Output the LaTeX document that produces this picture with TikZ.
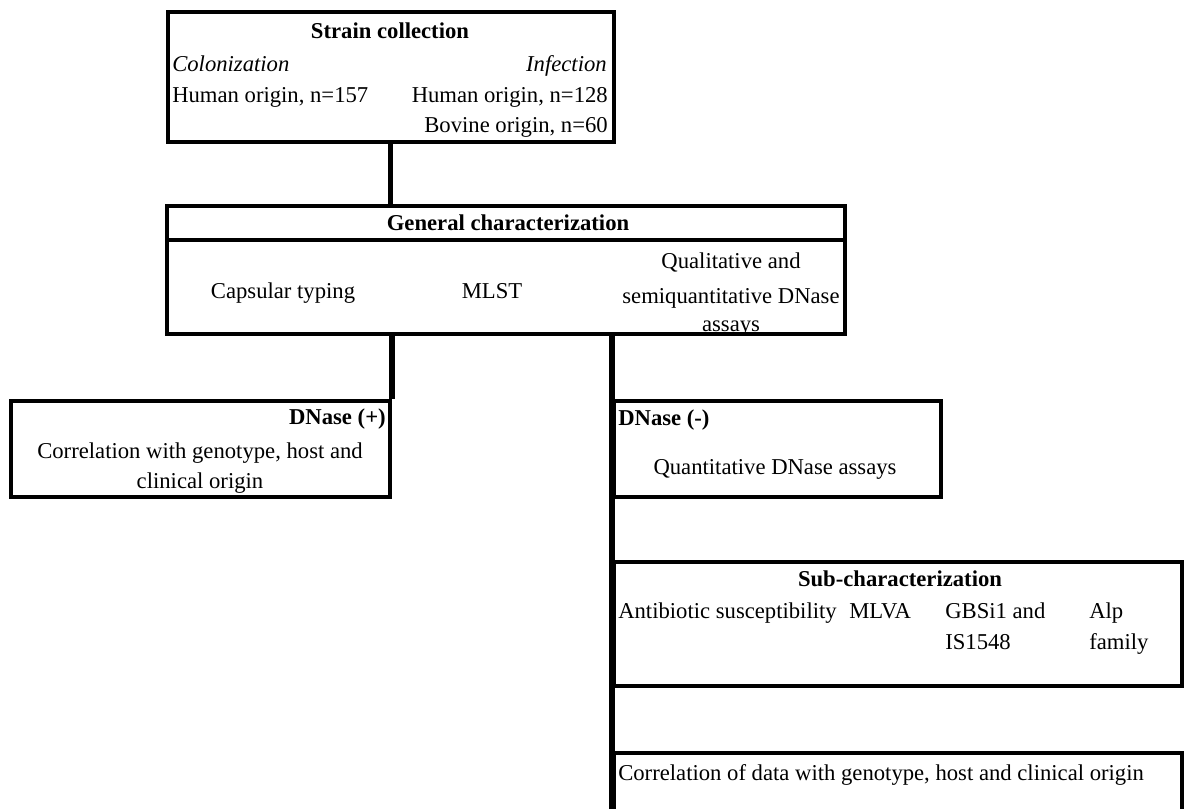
\documentclass[tikz,border=0pt]{standalone}
\usepackage{fontspec}
\setmainfont{Liberation Serif}
\begin{document}
\begin{tikzpicture}[x=0.75pt,y=-0.75pt,
  box/.style={draw, line width=3pt, rectangle, inner sep=0pt},
  conn/.style={line width=4pt},
  txt/.style={inner sep=0pt, font=\fontsize{17}{24}\selectfont},
  btxt/.style={txt, font=\fontsize{17}{24}\selectfont\bfseries},
  itxt/.style={txt, font=\fontsize{17}{24}\selectfont\itshape}]
\useasboundingbox (0,0) rectangle (1187,809);
\clip (0,0) rectangle (1187,809);
% boxes
\node[box, minimum width=446*0.75pt, minimum height=130*0.75pt] (strain) at (390.5,77) {};
\node[box, minimum width=678*0.75pt, minimum height=128*0.75pt] (general) at (506,270) {};
\coordinate (gdivL) at (167,239.5);
\coordinate (gdivR) at (845,239.5);
\draw[line width=3pt] (gdivL) -- (gdivR);
\node[box, minimum width=379*0.75pt, minimum height=96.5*0.75pt] (dplus) at (200.5,449) {};
\node[box, minimum width=327*0.75pt, minimum height=96*0.75pt] (dminus) at (777.5,449) {};
\node[box, minimum width=568*0.75pt, minimum height=124.5*0.75pt] (sub) at (898,624) {};
\node[box, minimum width=568*0.75pt, minimum height=100*0.75pt] (corr) at (898,803) {};
% connectors
\draw[conn] (strain.south) -- (strain.south |- general.north);
\draw[conn] (dplus.north east) -- (dplus.north east |- general.south);
\draw[conn] (dminus.north west |- general.south) -- (dminus.north west);
\draw[conn] (dminus.north west) -- (dminus.south west);
\draw[conn] (dminus.south west) -- (sub.north west);
\draw[conn] (sub.north west) -- (sub.south west);
\draw[conn] (sub.south west) -- (corr.north west);
\draw[conn] (corr.north west) -- (corr.south west);
% strain texts
\node[btxt, anchor=base] (t1) at (390,39) {Strain collection};
\node[itxt, anchor=base west] (t2) at (172,72) {Colonization};
\node[itxt, anchor=base east] (t3) at (607,72) {Infection};
\node[txt, anchor=base west] (t4) at (172,103) {Human origin, n=157};
\node[txt, anchor=base east] (t5) at (608,103) {Human origin, n=128};
\node[txt, anchor=base east] (t6) at (608,133) {Bovine origin, n=60};
% general texts
\node[btxt, anchor=base] (g1) at (508,230) {General characterization};
\node[txt, anchor=base] (g2) at (283,298) {Capsular typing};
\node[txt, anchor=base] (g3) at (492,298) {MLST};
\node[txt, anchor=base] (g4) at (731,268) {Qualitative and};
\node[txt, anchor=base] (g5) at (731,303) {semiquantitative DNase};
\node[txt, anchor=base] (g6) at (731,331) {assays};
% dnase +
\node[btxt, anchor=base east] (p1) at (386,424) {DNase (+)};
\node[txt, anchor=base] (p2) at (200,458) {Correlation with genotype, host and};
\node[txt, anchor=base] (p3) at (200,488) {clinical origin};
% dnase -
\node[btxt, anchor=base west] (m1) at (618,425) {DNase (-)};
\node[txt, anchor=base] (m2) at (775,474) {Quantitative DNase assays};
% sub
\node[btxt, anchor=base] (s1) at (900,586) {Sub-characterization};
\node[txt, anchor=base west] (s2) at (618,618) {Antibiotic susceptibility};
\node[txt, anchor=base west] (s3) at (849,618) {MLVA};
\node[txt, anchor=base west] (s4) at (945,618) {GBSi1 and};
\node[txt, anchor=base west] (s5) at (945,649) {IS1548};
\node[txt, anchor=base west] (s6) at (1089,618) {Alp};
\node[txt, anchor=base west] (s7) at (1089,649) {family};
% corr
\node[txt, anchor=base west] (c1) at (618,780) {Correlation of data with genotype, host and clinical origin};
\end{tikzpicture}
\end{document}
